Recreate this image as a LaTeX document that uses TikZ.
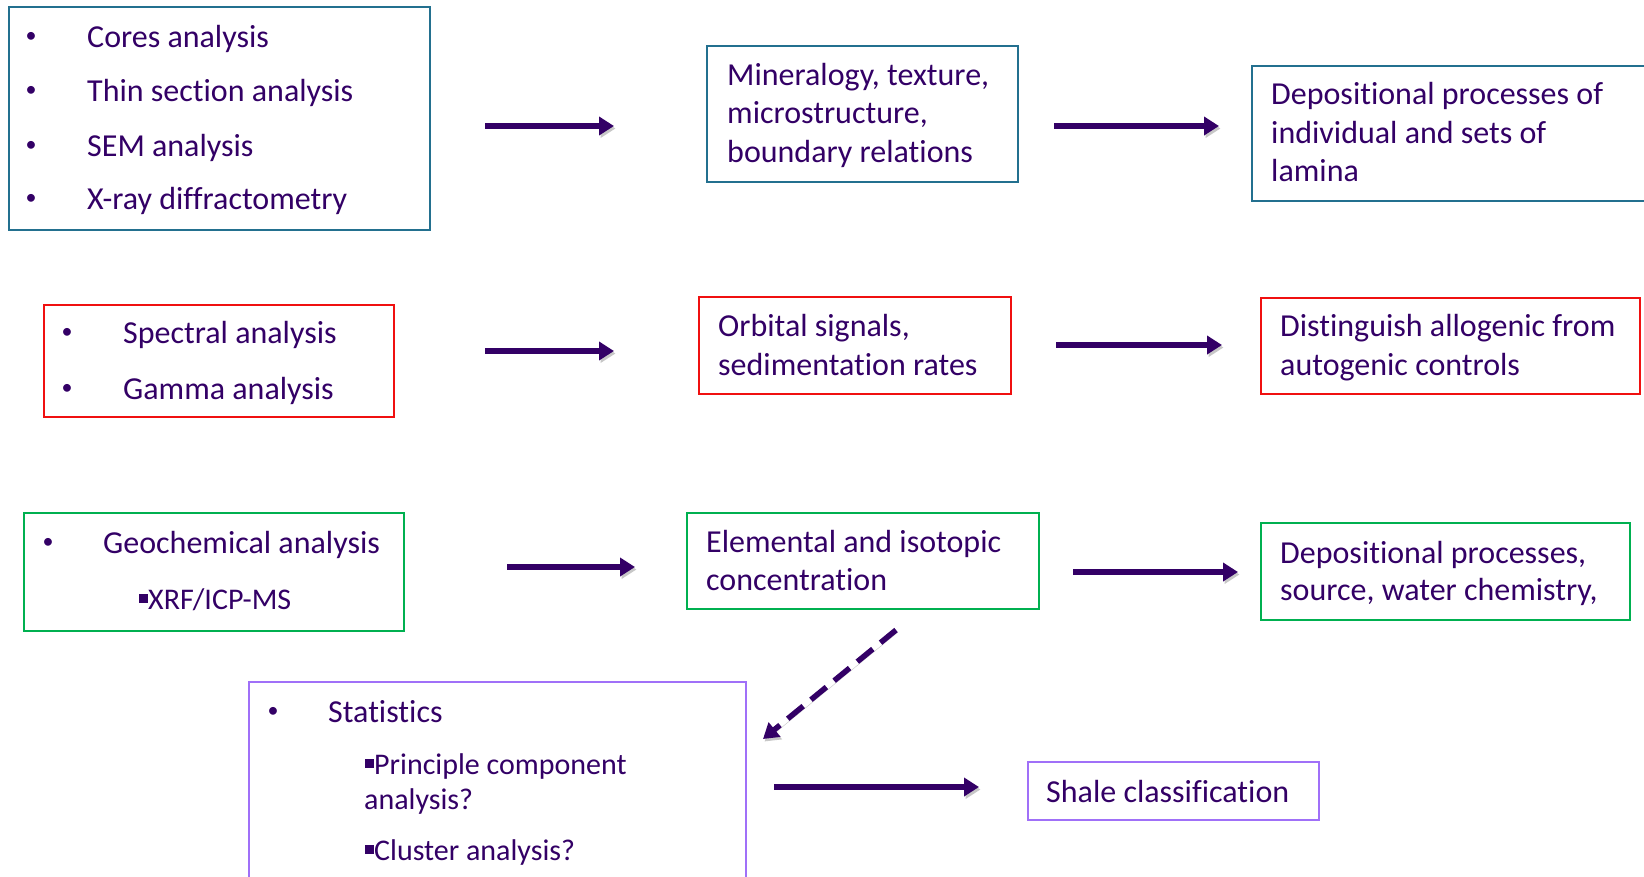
\documentclass[tikz,border=0pt]{standalone}
\usepackage{fontspec}
\setmainfont[Ligatures=CommonOff]{Carlito}
\usetikzlibrary{arrows.meta}
\definecolor{ink}{HTML}{330066}
\definecolor{tealc}{HTML}{23708F}
\definecolor{redc}{HTML}{F01010}
\definecolor{greenc}{HTML}{00B050}
\definecolor{purplec}{HTML}{A070F8}
\newcommand{\sqb}{\raisebox{0.2em}{\rule{0.3em}{0.3em}}}
\tikzset{
  box/.style={draw=#1, line width=2pt, inner sep=0pt, anchor=north west},
  txt/.style={anchor=base west, inner sep=0pt, text=ink, font=\fontsize{32}{38}\selectfont},
  subtxt/.style={anchor=base west, inner sep=0pt, text=ink, font=\fontsize{30}{35}\selectfont},
  bul/.style={anchor=center, inner sep=0pt, text=ink, font=\fontsize{22}{26}\selectfont},
  flow/.style={draw=ink, line width=5.5pt, -{Triangle[length=15pt,width=18pt]},
    preaction={draw=black!22, transform canvas={xshift=1.5pt,yshift=-2.5pt}}},
  dflow/.style={flow, dash pattern=on 20pt off 10pt}
}
\begin{document}
\begin{tikzpicture}[x=1pt,y=-1pt]
\path[use as bounding box, clip] (0,0) rectangle (1644,876);
\fill[white] (0,0) rectangle (1644,876);

% boxes
\node[box=tealc, minimum width=421pt, minimum height=223pt] (b1) at (8,6) {};
\node[box=tealc, minimum width=311pt, minimum height=136pt] (b2) at (706,45) {};
\node[box=tealc, minimum width=449pt, minimum height=135pt] (b3) at (1251,65) {};
\node[box=redc, minimum width=350pt, minimum height=112pt] (b4) at (43,304) {};
\node[box=redc, minimum width=312pt, minimum height=97pt] (b5) at (698,296) {};
\node[box=redc, minimum width=379pt, minimum height=96pt] (b6) at (1260,297) {};
\node[box=greenc, minimum width=380pt, minimum height=118pt] (b7) at (23,512) {};
\node[box=greenc, minimum width=352pt, minimum height=96pt] (b8) at (686,512) {};
\node[box=greenc, minimum width=369pt, minimum height=97pt] (b9) at (1260,522) {};
\node[box=purplec, minimum width=497pt, minimum height=230pt] (b10) at (248,681) {};
\node[box=purplec, minimum width=291pt, minimum height=58pt] (b11) at (1027,761) {};

% box 1
\node[bul] (b1d1) at (31,37) {•};
\node[txt] (b1t1) at (87,47) {Cores analysis};
\node[bul] (b1d2) at (31,91) {•};
\node[txt] (b1t2) at (87,101) {Thin section analysis};
\node[bul] (b1d3) at (31,146) {•};
\node[txt] (b1t3) at (87,156) {SEM analysis};
\node[bul] (b1d4) at (31,199) {•};
\node[txt] (b1t4) at (87,209) {X-ray diffractometry};
% box 2
\node[txt] (b2t1) at (727,85) {Mineralogy, texture,};
\node[txt] (b2t2) at (727,123) {microstructure,};
\node[txt] (b2t3) at (727,162) {boundary relations};
% box 3
\node[txt] (b3t1) at (1271,104) {Depositional processes of};
\node[txt] (b3t2) at (1271,143) {individual and sets of};
\node[txt] (b3t3) at (1271,181) {lamina};
% box 4
\node[bul] (b4d1) at (67,333) {•};
\node[txt] (b4t1) at (123,343) {Spectral analysis};
\node[bul] (b4d2) at (67,389) {•};
\node[txt] (b4t2) at (123,399) {Gamma analysis};
% box 5
\node[txt] (b5t1) at (718,336) {Orbital signals,};
\node[txt] (b5t2) at (718,375) {sedimentation rates};
% box 6
\node[txt] (b6t1) at (1280,336) {Distinguish allogenic from};
\node[txt] (b6t2) at (1280,375) {autogenic controls};
% box 7
\node[bul] (b7d1) at (48,543) {•};
\node[txt] (b7t1) at (103,553) {Geochemical analysis};
\node[subtxt] (b7t2) at (139,609) {\sqb XRF/ICP-MS};
% box 8
\node[txt] (b8t1) at (706,552) {Elemental and isotopic};
\node[txt] (b8t2) at (706,590) {concentration};
% box 9
\node[txt] (b9t1) at (1280,563) {Depositional processes,};
\node[txt] (b9t2) at (1280,600) {source, water chemistry,};
% box 10
\node[bul] (b10d1) at (273,712) {•};
\node[txt] (b10t1) at (328,722) {Statistics};
\node[subtxt] (b10t2) at (365,774) {\sqb Principle component};
\node[subtxt] (b10t3) at (364,809) {analysis?};
\node[subtxt] (b10t4) at (365,860) {\sqb Cluster analysis?};
% box 11
\node[txt] (b11t1) at (1046,802) {Shale classification};

% arrow end points
\coordinate (a1s) at (485,126);  \coordinate (a1e) at (614,126);
\coordinate (a2s) at (1054,126); \coordinate (a2e) at (1219,126);
\coordinate (a3s) at (485,351);  \coordinate (a3e) at (614,351);
\coordinate (a4s) at (1056,345); \coordinate (a4e) at (1222,345);
\coordinate (a5s) at (507,567);  \coordinate (a5e) at (635,567);
\coordinate (a6s) at (1073,572); \coordinate (a6e) at (1238,572);
\coordinate (a7s) at (774,787);  \coordinate (a7e) at (979,787);
\coordinate (d1s) at (896,630);  \coordinate (d1e) at (763,739);

\draw[flow] (a1s) -- (a1e);
\draw[flow] (a2s) -- (a2e);
\draw[flow] (a3s) -- (a3e);
\draw[flow] (a4s) -- (a4e);
\draw[flow] (a5s) -- (a5e);
\draw[flow] (a6s) -- (a6e);
\draw[flow] (a7s) -- (a7e);
\draw[dflow] (d1s) -- (d1e);
\end{tikzpicture}
\end{document}
